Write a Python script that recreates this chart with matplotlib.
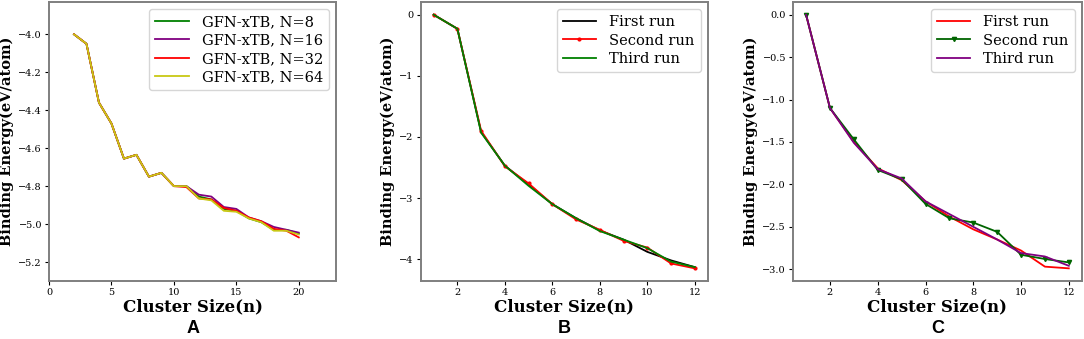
import matplotlib
matplotlib.use("Agg")
import matplotlib.pyplot as plt
import numpy as np

# Panel A: GFN-xTB binding energies for different N
n_a = list(range(2, 21))
common_a = [-4.00, -4.05, -4.36, -4.47, -4.655, -4.635, -4.75, -4.73]
gfn_8 = common_a + [-4.80, -4.80, -4.855, -4.87, -4.92, -4.93, -4.97, -4.99, -5.03, -5.03, -5.05]
gfn_16 = common_a + [-4.80, -4.80, -4.845, -4.855, -4.91, -4.92, -4.965, -4.985, -5.015, -5.03, -5.045]
gfn_32 = common_a + [-4.80, -4.805, -4.865, -4.87, -4.915, -4.93, -4.965, -4.985, -5.025, -5.035, -5.07]
gfn_64 = common_a + [-4.80, -4.80, -4.865, -4.875, -4.93, -4.935, -4.97, -4.99, -5.035, -5.035, -5.055]
labels_a = ["GFN-xTB, N=8", "GFN-xTB, N=16", "GFN-xTB, N=32", "GFN-xTB, N=64"]

# Panel B
n_b = list(range(1, 13))
b_first = [0.0, -0.23, -1.92, -2.47, -2.78, -3.10, -3.33, -3.53, -3.68, -3.88, -4.02, -4.13]
b_second = [0.0, -0.23, -1.90, -2.48, -2.76, -3.10, -3.35, -3.52, -3.70, -3.81, -4.07, -4.15]
b_third = [0.0, -0.23, -1.93, -2.47, -2.80, -3.10, -3.33, -3.54, -3.68, -3.82, -4.04, -4.13]

# Panel C
n_c = list(range(1, 13))
c_first = [0.0, -1.10, -1.50, -1.81, -1.95, -2.20, -2.38, -2.53, -2.65, -2.78, -2.97, -2.99]
c_second = [0.0, -1.10, -1.47, -1.83, -1.94, -2.23, -2.40, -2.45, -2.56, -2.83, -2.88, -2.92]
c_third = [0.0, -1.10, -1.51, -1.82, -1.93, -2.20, -2.35, -2.50, -2.65, -2.81, -2.85, -2.96]

run_labels = ["First run", "Second run", "Third run"]

plt.rcParams['font.family'] = 'DejaVu Serif'

fig = plt.figure(figsize=(10.84, 3.39), dpi=100)
ax1 = fig.add_axes([0.0452, 0.171, 0.265, 0.823])
ax2 = fig.add_axes([0.388, 0.171, 0.265, 0.823])
ax3 = fig.add_axes([0.7315, 0.171, 0.2666, 0.823])


def style(ax):
    for sp in ax.spines.values():
        sp.set_color('#7f7f7f')
        sp.set_linewidth(1.4)
    ax.tick_params(labelsize=7, length=3, width=0.8, pad=2)
    ax.set_xlabel('Cluster Size(n)', fontsize=12, fontweight='bold', labelpad=1)
    ax.set_ylabel('Binding Energy(eV/atom)', fontsize=10.5, fontweight='bold', labelpad=3)


def legend(ax):
    ax.legend(loc='upper right', fontsize=10.5, handlelength=2.3, labelspacing=0.3,
              borderaxespad=0.5, handletextpad=0.9)


# --- A ---
for y, c, lab in zip([gfn_8, gfn_16, gfn_32, gfn_64],
                     ['green', 'purple', 'red', '#c8c814'], labels_a):
    ax1.plot(n_a, y, color=c, lw=1.3, label=lab)
ax1.set_xlim(0, 23)
ax1.set_ylim(-5.3, -3.83)
ax1.set_xticks([0, 5, 10, 15, 20])
ax1.set_yticks([-5.2, -5.0, -4.8, -4.6, -4.4, -4.2, -4.0])
style(ax1)
legend(ax1)

# --- B ---
ax2.plot(n_b, b_first, color='black', lw=1.3, label=run_labels[0])
ax2.plot(n_b, b_second, color='red', lw=1.3, marker='.', ms=4, label=run_labels[1])
ax2.plot(n_b, b_third, color='green', lw=1.3, label=run_labels[2])
ax2.set_xticks([2, 4, 6, 8, 10, 12])
ax2.set_yticks([-4, -3, -2, -1, 0])
style(ax2)
legend(ax2)

# --- C ---
ax3.plot(n_c, c_first, color='red', lw=1.3, label=run_labels[0])
ax3.plot(n_c, c_second, color='darkgreen', lw=1.3, marker='v', ms=3, label=run_labels[1])
ax3.plot(n_c, c_third, color='purple', lw=1.3, label=run_labels[2])
ax3.set_xticks([2, 4, 6, 8, 10, 12])
ax3.set_yticks([-3.0, -2.5, -2.0, -1.5, -1.0, -0.5, 0.0])
style(ax3)
legend(ax3)

for ax, letter in zip([ax1, ax2, ax3], ['A', 'B', 'C']):
    pos = ax.get_position()
    fig.text((pos.x0 + pos.x1) / 2, 0.032, letter, ha='center', va='center',
             fontsize=13, fontweight='bold', family='Liberation Sans')

fig.savefig('out.png', dpi=100)
